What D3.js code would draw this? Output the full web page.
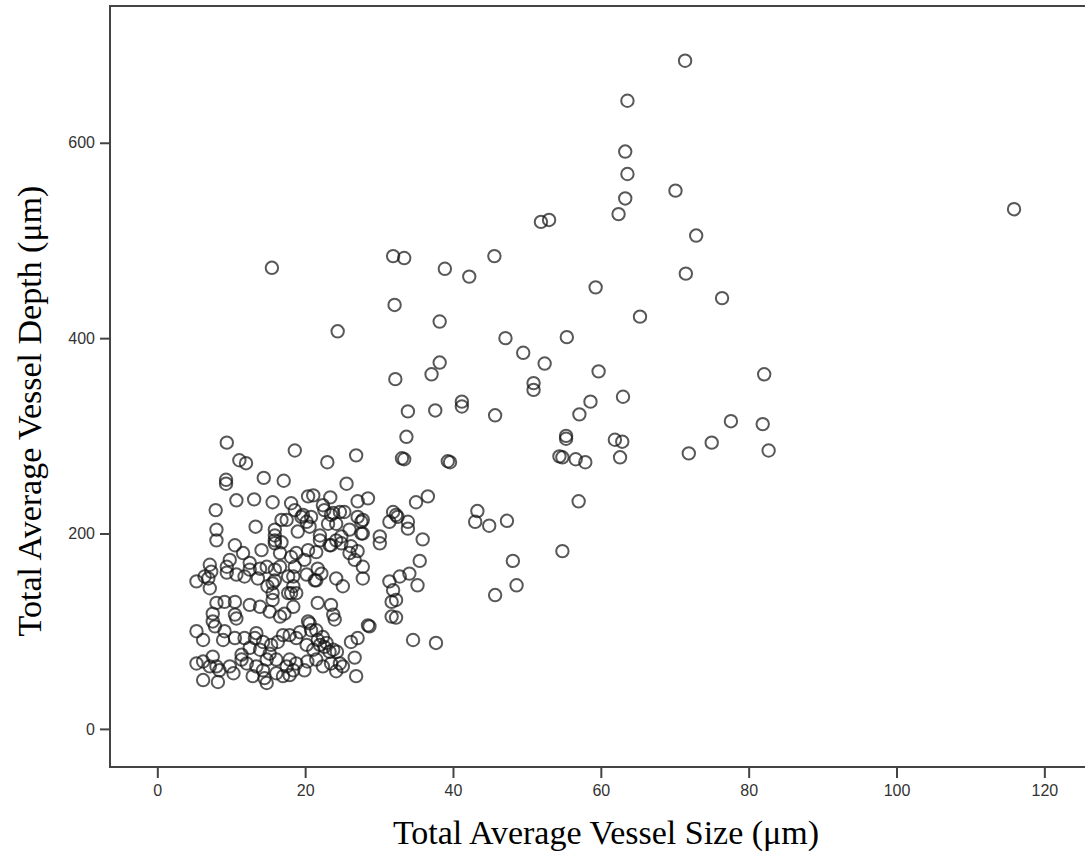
<!DOCTYPE html>
<meta charset="utf-8">
<style>
body { margin: 0; background: #fff; }
.tick text { font: 16px "Liberation Sans", Arial, sans-serif; fill: #333; }
.axisTitle { font: 34px "Liberation Serif", "Times New Roman", serif; fill: #000; }
.dot { fill: none; stroke: #111; stroke-opacity: 0.7; stroke-width: 2px; }
</style>
<body>
<script src="https://d3js.org/d3.v7.min.js"></script>
<script>

// Total average vessel size (µm) and depth (µm), one entry per vessel
const vesselSize = [
  71.4, 63.6, 63.3, 63.6, 63.3, 62.4, 70.1, 72.9, 115.9, 51.9, 53.0, 15.5, 31.9, 33.4, 38.9, 42.2, 45.6,
  32.1, 59.3, 71.5, 76.4, 65.3, 24.4, 38.2, 47.1, 55.4, 38.2, 37.1, 49.5, 52.4, 32.2, 59.7, 82.1,
  50.9, 50.9, 33.9, 37.6, 41.2, 41.2, 45.7, 57.1, 58.6, 63.0, 33.7, 33.1, 33.4, 55.3, 55.3, 54.4,
  54.8, 56.6, 57.9, 61.9, 62.9, 62.6, 71.9, 75.0, 77.6, 81.9, 82.7, 39.3, 39.6, 57.0, 54.8, 43.3,
  43.0, 44.9, 47.3, 48.1, 48.6, 45.7, 34.6, 37.7, 36.6, 35.0, 35.9, 35.5, 35.2, 34.1, 32.8, 32.3,
  32.3, 33.9, 33.9,
  // dense cluster
  9.4, 11.1, 12.0, 9.3, 9.3, 14.4, 17.1, 18.6, 23.0, 26.9, 25.6, 10.7, 13.1, 15.6, 7.9, 18.1, 20.4,
  21.1, 23.4, 27.1, 28.5, 8.0, 8.0, 13.3, 17.5, 19.5, 20.2, 19.0, 20.6, 22.4, 23.5, 25.3, 27.6,
  27.8, 26.0, 24.2, 24.9, 31.4, 32.3, 30.1, 30.1, 10.5, 11.6, 14.1, 15.9, 15.9, 16.8, 18.8, 21.5,
  23.5, 24.2, 22.0, 26.0, 26.7, 7.1, 7.3, 9.8, 5.3, 6.4, 6.9, 7.1, 9.4, 10.7, 11.8, 12.5, 13.9,
  14.8, 15.9, 15.6, 15.6, 15.6, 18.6, 18.4, 18.4, 18.1, 18.8, 20.2, 21.5, 22.2, 21.7, 24.2, 25.1,
  27.8, 27.8, 31.4, 31.9, 31.7, 31.7, 28.7, 28.5, 27.1, 26.2, 26.9, 8.0, 7.5, 7.5, 7.8, 9.1, 10.5,
  10.5, 10.7, 12.5, 13.9, 15.2, 16.6, 18.4, 20.6, 21.5, 22.4, 22.9, 21.7, 23.5, 23.8, 24.0, 5.3,
  6.2, 8.9, 10.5, 11.8, 13.2, 14.3, 15.4, 17.0, 17.9, 18.8, 20.2, 21.1, 22.0, 23.3, 12.5, 13.9,
  5.3, 6.2, 7.5, 8.0, 7.1, 9.8, 11.4, 12.1, 13.4, 14.3, 14.8, 15.2, 16.1, 17.5, 17.9, 18.4, 18.8,
  6.2, 8.2, 12.9, 14.5, 14.8, 16.1, 17.0, 17.9, 19.9, 21.5, 22.4, 23.5, 24.2, 25.1, 31.9, 32.5,
  18.1, 17.7, 17.7, 21.3, 15.9, 16.6, 16.6, 15.9, 20.4, 19.9, 22.0, 23.3, 24.9, 26.2, 16.8, 15.9,
  18.6, 19.7, 20.8, 22.6, 23.8, 24.7, 23.1, 27.1, 27.8, 27.6, 27.1, 20.4, 20.8, 21.7, 22.6, 23.8,
  24.7, 9.4, 12.5, 13.6, 14.9, 17.2, 19.3, 10.3, 11.4, 13.4, 16.3, 20.3, 24.3, 26.7, 8.4, 9.1
];
const vesselDepth = [
  684, 643, 591, 568, 543, 527, 551, 505, 532, 519, 521, 472, 484, 482, 471, 463, 484,
  434, 452, 466, 441, 422, 407, 417, 400, 401, 375, 363, 385, 374, 358, 366, 363,
  354, 347, 325, 326, 335, 330, 321, 322, 335, 340, 299, 277, 276, 300, 297, 279,
  278, 276, 273, 296, 294, 278, 282, 293, 315, 312, 285, 274, 273, 233, 182, 223,
  212, 208, 213, 172, 147, 137, 91, 88, 238, 232, 194, 172, 147, 159, 156, 132,
  114, 212, 205,
  293, 275, 272, 255, 251, 257, 254, 285, 273, 280, 251, 234, 235, 232, 224, 231, 238,
  239, 237, 233, 236, 204, 193, 207, 214, 217, 212, 202, 207, 229, 219, 222, 212,
  200, 204, 210, 197, 212, 219, 197, 190, 188, 180, 183, 198, 190, 191, 180, 181,
  188, 193, 198, 180, 173, 168, 161, 173, 151, 156, 154, 144, 160, 158, 156, 163, 164,
  166, 163, 149, 139, 132, 166, 156, 146, 139, 139, 158, 152, 159, 164, 154, 146,
  166, 154, 151, 142, 130, 115, 105, 106, 93, 89, 54, 129, 118, 110, 105, 130, 130,
  117, 113, 127, 125, 120, 115, 125, 108, 101, 94, 88, 129, 127, 117, 112, 100,
  91, 91, 93, 93, 93, 89, 86, 96, 96, 93, 86, 81, 86, 79, 83, 81,
  67, 69, 74, 64, 64, 64, 71, 67, 64, 60, 71, 77, 71, 64, 71, 60, 67,
  50, 48, 54, 52, 47, 57, 54, 55, 60, 71, 64, 67, 59, 64, 222, 217,
  176, 156, 139, 152, 193, 180, 166, 152, 183, 173, 193, 188, 190, 187, 214, 204,
  224, 219, 217, 224, 221, 222, 210, 217, 214, 200, 182, 110, 101, 91, 84, 81,
  67, 166, 170, 154, 146, 118, 99, 57, 76, 98, 89, 69, 79, 73, 60, 100
];

const width = 1085,
      height = 858,
      plotLeft = 110, plotTop = 6, plotBottom = 767;

const svg = d3.select("body").append("svg")
    .attr("width", width)
    .attr("height", height);

const x = d3.scaleLinear().domain([-6.4, 125.5]).range([plotLeft, width]),
      y = d3.scaleLinear().domain([-39, 740]).range([plotBottom, plotTop]);

// frame (right side runs off the picture)
svg.append("rect")
    .attr("x", plotLeft)
    .attr("y", plotTop)
    .attr("width", width + 10 - plotLeft)
    .attr("height", plotBottom - plotTop)
    .attr("fill", "none")
    .attr("stroke", "#444")
    .attr("stroke-width", 2);

const xAxis = svg.append("g")
    .attr("transform", `translate(0,${plotBottom})`)
    .call(d3.axisBottom(x).tickValues(d3.range(0, 121, 20)).tickSize(11).tickPadding(7));

const yAxis = svg.append("g")
    .attr("transform", `translate(${plotLeft},0)`)
    .call(d3.axisLeft(y).tickValues([0, 200, 400, 600]).tickSize(10).tickPadding(5));

[xAxis, yAxis].forEach(g => {
  g.select(".domain").remove();
  g.selectAll(".tick line").attr("stroke", "#444").attr("stroke-width", 2);
});

svg.append("g")
  .selectAll("circle")
  .data(d3.range(vesselSize.length))
  .join("circle")
    .attr("class", "dot")
    .attr("cx", i => x(vesselSize[i]))
    .attr("cy", i => y(vesselDepth[i]))
    .attr("r", 6.2);

svg.append("text")
    .attr("class", "axisTitle")
    .attr("x", 606)
    .attr("y", 844)
    .attr("text-anchor", "middle")
    .text("Total Average Vessel Size (μm)");

svg.append("text")
    .attr("class", "axisTitle")
    .attr("transform", "translate(41,411) rotate(-90)")
    .attr("text-anchor", "middle")
    .text("Total Average Vessel Depth (μm)");

</script>
